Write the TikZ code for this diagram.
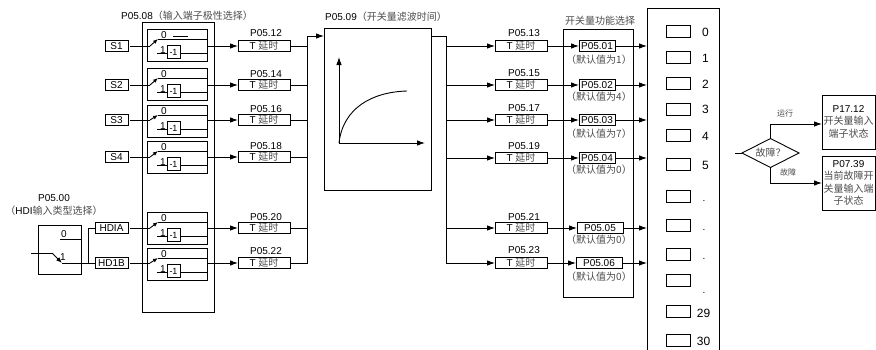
\documentclass[tikz,border=0pt]{standalone}
\usepackage{fontspec}
\setmainfont{Liberation Sans}
\newfontfamily\cjk{Noto Sans CJK SC}
\usetikzlibrary{arrows.meta,shapes.geometric}
\definecolor{zhgray}{gray}{0.3}
\newcommand{\zh}[1]{{\cjk\textcolor{zhgray}{#1}}}
\tikzset{
  every node/.style={font=\fontsize{10}{12}\selectfont,inner sep=0pt,outer sep=0pt},
  every path/.style={line width=0.9pt},
  box/.style={draw,anchor=north west},
  tag/.style={draw,minimum height=11pt},
  delay/.style={draw,minimum width=52pt,minimum height=11pt},
  plabel/.style={fill=white,inner sep=1.6pt},
  negbox/.style={draw,minimum width=13pt,minimum height=13pt,font=\fontsize{9}{11}\selectfont},
  bit/.style={draw,minimum width=24pt,minimum height=12pt},
  num/.style={font=\fontsize{12}{14}\selectfont},
  sigline/.style={-{Latex[length=8pt,width=5.5pt]}},
  swline/.style={-{Latex[length=5pt,width=4pt]}},
  state/.style={box,minimum width=53pt,minimum height=54pt},
}
\begin{document}
\begin{tikzpicture}[x=1pt,y=-1pt]
\useasboundingbox (0,0) rectangle (876,349);
% input terminals
\node (in1) at (116.5,46) [tag,minimum width=23pt] {S1};
\node (in2) at (116.5,85) [tag,minimum width=23pt] {S2};
\node (in3) at (116.5,120) [tag,minimum width=23pt] {S3};
\node (in4) at (116.5,157) [tag,minimum width=23pt] {S4};
\node (in5) at (111.5,228) [tag,minimum width=33pt] {HDIA};
\node (in6) at (111.5,263) [tag,minimum width=33pt] {HD1B};
% delay boxes
\node (tin1) at (264,46) [delay] {T \zh{延时}};
\node (tin2) at (264,85) [delay] {T \zh{延时}};
\node (tin3) at (264,120) [delay] {T \zh{延时}};
\node (tin4) at (264,157) [delay] {T \zh{延时}};
\node (tin5) at (264,228) [delay] {T \zh{延时}};
\node (tin6) at (264,263) [delay] {T \zh{延时}};
\node (tout1) at (521,46) [delay] {T \zh{延时}};
\node (tout2) at (521,85) [delay] {T \zh{延时}};
\node (tout3) at (521,120) [delay] {T \zh{延时}};
\node (tout4) at (521,158) [delay] {T \zh{延时}};
\node (tout5) at (521,228) [delay] {T \zh{延时}};
\node (tout6) at (521,263) [delay] {T \zh{延时}};
\node (lb12) at (266,33) [plabel] {P05.12};
\node (lb14) at (266,74) [plabel] {P05.14};
\node (lb16) at (266,109) [plabel] {P05.16};
\node (lb18) at (266,146) [plabel] {P05.18};
\node (lb20) at (266,217) [plabel] {P05.20};
\node (lb22) at (266,251) [plabel] {P05.22};
\node (lb13) at (524,33) [plabel] {P05.13};
\node (lb15) at (524,73) [plabel] {P05.15};
\node (lb17) at (524,108) [plabel] {P05.17};
\node (lb19) at (524,146) [plabel] {P05.19};
\node (lb21) at (524,217) [plabel] {P05.21};
\node (lb23) at (524,250) [plabel] {P05.23};
% polarity block
\node (polbox) at (142,22) [box,minimum width=72pt,minimum height=290pt] {};
\node (poltitle) at (187,16) {P05.08\zh{（输入端子极性选择）}};
\foreach \n/\t/\r in {1/29/46,2/68/85,3/105/120,4/141/157,5/212/228,6/248/263}{
  \node (pol\n) at (147,\t) [box,minimum width=60pt,minimum height=32pt] {};
  \node (zero\n) at (164,\t+6) {0};
  \node (one\n) at (163,\t+21) {1};
  \node (neg\n) at (173.5,\t+23) [negbox] {-1};
  \coordinate (swa\n) at (150,\r);
  \coordinate (swb\n) at (158,\t+10);
  \coordinate (swc\n) at (157,\t+24);
  \draw[shorten <=2pt] (in\n) -- (swa\n);
  \draw[swline] (swa\n) -- (swb\n);
  \draw (swb\n) -- (swb\n -| pol\n.east);
  \draw (swc\n) -- (swc\n -| neg\n.west);
  \draw (neg\n.east |- swc\n) -- (swc\n -| pol\n.east);
  \draw[sigline] (pol\n.east |- tin\n) -- (tin\n);
}
\coordinate (dasha) at (173,36);
\coordinate (dashb) at (188,36);
\draw (dasha) -- (dashb);
% HDI type selector
\node (hdibox) at (38,225) [box,minimum width=43pt,minimum height=49pt] {};
\node (hdinum) at (54,198) {P05.00};
\node (hditext) at (54,211) {\zh{（}HDI\zh{输入类型选择）}};
\node (hdizero) at (64,234) {0};
\node (hdione) at (63,257) {1};
\coordinate (hdiin) at (31,253);
\coordinate (hdibend) at (52,253);
\coordinate (hdisw) at (62,263);
\coordinate (hdiup) at (60,239);
\coordinate (hdifork) at (88,263);
\draw (hdiin) -- (hdibend);
\draw[-{Latex[length=6pt,width=4.5pt]}] (hdibend) -- (hdisw);
\draw (hdisw) -- (in6);
\draw (hdiup) -- (hdiup -| hdibox.east);
\draw (hdifork) |- (in5);
% left bus
\coordinate (busl) at (307,36);
\draw (busl) -- (busl |- tin6) -- (tin6);
\draw (tin1) -- (tin1 -| busl);
\draw (tin2) -- (tin2 -| busl);
\draw (tin3) -- (tin3 -| busl);
\draw (tin4) -- (tin4 -| busl);
\draw (tin5) -- (tin5 -| busl);
% filter block
\node (filter) at (324,28) [box,minimum width=107pt,minimum height=162pt] {};
\node (filtertitle) at (386,17) {P05.09\zh{（开关量滤波时间）}};
\draw[sigline] (busl) -- (busl -| filter.west);
\coordinate (orig) at (339,143);
\coordinate (yend) at (339,57);
\coordinate (xend) at (425,143);
\coordinate (curveend) at (407,91);
\draw[sigline] (orig) -- (yend);
\draw[sigline] (orig) -- (xend);
\draw (orig) .. controls (343,108) and (372,92) .. (curveend);
% right bus
\coordinate (busr) at (446,36);
\draw (filter.east |- busr) -- (busr) -- (busr |- tout6);
\draw[sigline] (busr |- tout1) -- (tout1);
\draw[sigline] (busr |- tout2) -- (tout2);
\draw[sigline] (busr |- tout3) -- (tout3);
\draw[sigline] (busr |- tout4) -- (tout4);
\draw[sigline] (busr |- tout5) -- (tout5);
\draw[sigline] (busr |- tout6) -- (tout6);
% function selection
\node (funcbox) at (563,29) [box,minimum width=70pt,minimum height=268pt] {};
\node (functitle) at (600,21) {\zh{开关量功能选择}};
\node (fn1) at (597,46) [tag,minimum width=36pt] {P05.01};
\node (fn2) at (597,85) [tag,minimum width=36pt] {P05.02};
\node (fn3) at (597,120) [tag,minimum width=36pt] {P05.03};
\node (fn4) at (597,158) [tag,minimum width=36pt] {P05.04};
\node (fn5) at (600,228) [tag,minimum width=46pt] {P05.05};
\node (fn6) at (599,263) [tag,minimum width=46pt] {P05.06};
\node (def1) at (599,60) {\zh{（默认值为1）}};
\node (def2) at (599,97) {\zh{（默认值为4）}};
\node (def3) at (599,134) {\zh{（默认值为7）}};
\node (def4) at (599,170) {\zh{（默认值为0）}};
\node (def5) at (599,240) {\zh{（默认值为0）}};
\node (def6) at (599,277) {\zh{（默认值为0）}};
\draw[sigline] (tout1) -- (fn1);
\draw[sigline] (tout2) -- (fn2);
\draw[sigline] (tout3) -- (fn3);
\draw[sigline] (tout4) -- (fn4);
\draw[sigline] (tout5) -- (fn5);
\draw[sigline] (tout6) -- (fn6);
% terminal bits
\node (bits) at (647,8) [box,minimum width=72pt,minimum height=343pt] {};
\draw[sigline] (fn1) -- (fn1 -| bits.west);
\draw[sigline] (fn2) -- (fn2 -| bits.west);
\draw[sigline] (fn3) -- (fn3 -| bits.west);
\draw[sigline] (fn4) -- (fn4 -| bits.west);
\draw[sigline] (fn5) -- (fn5 -| bits.west);
\draw[sigline] (fn6) -- (fn6 -| bits.west);
\node (bit0) at (678,31) [bit] {};
\node (bit1) at (678,57.5) [bit] {};
\node (bit2) at (678,83) [bit] {};
\node (bit3) at (678,109) [bit] {};
\node (bit4) at (678,135) [bit] {};
\node (bit5) at (678,164.5) [bit] {};
\node (bit6) at (678,196) [bit] {};
\node (bit7) at (678,225) [bit] {};
\node (bit8) at (678,254) [bit] {};
\node (bit9) at (678,280) [bit] {};
\node (bit29) at (678,311.5) [bit] {};
\node (bit30) at (678,340) [bit] {};
\node (val0) at (705.5,32) [num] {0};
\node (val1) at (705.5,58) [num] {1};
\node (val2) at (705.5,84) [num] {2};
\node (val3) at (705.5,109) [num] {3};
\node (val4) at (705.5,136) [num] {4};
\node (val5) at (705.5,165) [num] {5};
\node (dot1) at (704,201) {.};
\node (dot2) at (704,230) {.};
\node (dot3) at (704,259) {.};
\node (dot4) at (704,293) {.};
\node (val29) at (703.5,313) [num] {29};
\node (val30) at (703.5,341) [num] {30};
% fault branch
\node (fault) at (770.5,153) [draw,diamond,aspect=2,minimum width=57pt,minimum height=29pt] {\zh{故障？}};
\coordinate (faultin) at (735,153);
\draw (faultin) -- (fault);
\node (runbox) at (822,95) [state] {};
\node (runtext) at (848.5,121.5) [align=center] {P17.12\\[0.5pt]\zh{开关量输入}\\[0.5pt]\zh{端子状态}};
\node (errbox) at (822,156) [state] {};
\node (errtext) at (848.5,183) [align=center] {P07.39\\[0.5pt]\zh{当前故障开}\\[0.5pt]\zh{关量输入端}\\[0.5pt]\zh{子状态}};
\node (runlabel) at (785,113) [font=\fontsize{8}{10}\selectfont] {\zh{运行}};
\node (errlabel) at (788,172) [font=\fontsize{8}{10}\selectfont] {\zh{故障}};
\coordinate (runend) at (822,124);
\draw[sigline] (fault.north) |- (runend);
\draw[sigline] (fault.south) |- (errbox.west);
\end{tikzpicture}
\end{document}
